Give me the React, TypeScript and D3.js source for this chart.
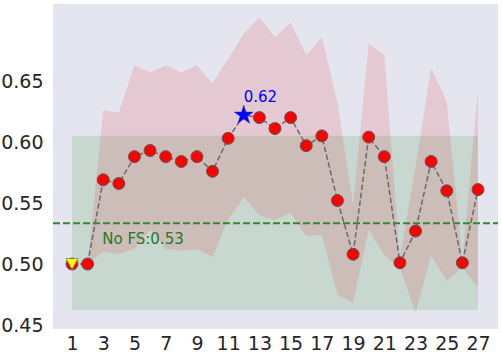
import React, { useEffect, useRef } from 'react';
import * as d3 from 'd3';

// number of selected features on the x axis
const features = [1, 2, 3, 4, 5, 6, 7, 8, 9, 10, 11, 12, 13, 14, 15, 16, 17, 18, 19, 20, 21, 22, 23, 24, 25, 26, 27];
// mean score per feature count
const meanScore = [0.500, 0.500, 0.569, 0.566, 0.588, 0.593, 0.588, 0.584, 0.588, 0.576, 0.603, 0.622, 0.620,
  0.611, 0.620, 0.597, 0.605, 0.552, 0.508, 0.604, 0.588, 0.501, 0.527, 0.584, 0.560, 0.501, 0.561];
// mean + std
const upperScore = [0.500, 0.500, 0.626, 0.624, 0.663, 0.657, 0.663, 0.657, 0.663, 0.648, 0.668, 0.689, 0.702,
  0.686, 0.698, 0.671, 0.686, 0.632, 0.549, 0.681, 0.671, 0.505, 0.580, 0.661, 0.633, 0.503, 0.643];
// mean - std
const lowerScore = [0.500, 0.500, 0.510, 0.508, 0.512, 0.528, 0.512, 0.511, 0.512, 0.506, 0.536, 0.555, 0.540,
  0.536, 0.542, 0.523, 0.524, 0.475, 0.468, 0.528, 0.507, 0.497, 0.460, 0.507, 0.486, 0.497, 0.481];

const noFsScore = 0.5335;
const noFsLabel = 'No FS:0.53';
const boxLow = 0.4623;
const boxHigh = 0.605;

const xTicks = [1, 3, 5, 7, 9, 11, 13, 15, 17, 19, 21, 23, 25, 27];
const yTicks = [0.45, 0.5, 0.55, 0.6, 0.65];

export default function App() {
  const ref = useRef<SVGSVGElement>(null);

  useEffect(() => {
    const svg = d3.select(ref.current);
    svg.selectAll('*').remove();

    // plot area
    const left = 53, right = 498, top = 4, bottom = 329;
    const font = 'DejaVu Sans, sans-serif';

    const x = d3.scaleLinear().domain([1, 27]).range([72, 478]);
    const y = d3.scaleLinear().domain([0.45, 0.65]).range([325, 81]);

    svg.append('rect')
      .attr('x', left).attr('y', top)
      .attr('width', right - left).attr('height', bottom - top)
      .attr('fill', '#E5E5EF');

    // min/max box
    svg.append('rect')
      .attr('x', x(features[0]))
      .attr('y', y(boxHigh))
      .attr('width', x(features[features.length - 1]) - x(features[0]))
      .attr('height', y(boxLow) - y(boxHigh))
      .attr('fill', 'rgb(84,164,84)')
      .attr('fill-opacity', 0.2);

    // std band
    const band = d3.area<number>()
      .x((d, i) => x(features[i]))
      .y0((d, i) => y(lowerScore[i]))
      .y1((d, i) => y(upperScore[i]));
    svg.append('path')
      .datum(meanScore)
      .attr('d', band)
      .attr('fill', 'rgb(224,84,94)')
      .attr('fill-opacity', 0.2);

    // no feature selection baseline
    svg.append('line')
      .attr('x1', left).attr('x2', right)
      .attr('y1', y(noFsScore)).attr('y2', y(noFsScore))
      .attr('stroke', '#2f8a2f')
      .attr('stroke-width', 2)
      .attr('stroke-dasharray', '7,3');

    svg.append('text')
      .attr('x', x(3) - 1)
      .attr('y', y(noFsScore) + 20.5)
      .attr('font-family', font)
      .attr('font-size', 15)
      .attr('fill', '#1f7a1f')
      .text(noFsLabel);

    // mean line
    const line = d3.line<number>()
      .x((d, i) => x(features[i]))
      .y(d => y(d));
    svg.append('path')
      .datum(meanScore)
      .attr('d', line)
      .attr('fill', 'none')
      .attr('stroke', '#6a6a6a')
      .attr('stroke-width', 1.5)
      .attr('stroke-dasharray', '5.5,2.5');

    const best = d3.maxIndex(meanScore);

    svg.append('g')
      .selectAll('circle')
      .data(meanScore.map((d, i) => i).filter(i => i !== best))
      .enter()
      .append('circle')
      .attr('cx', i => x(features[i]))
      .attr('cy', i => y(meanScore[i]))
      .attr('r', 6)
      .attr('fill', 'red')
      .attr('stroke', '#5a5a5a')
      .attr('stroke-width', 1);

    // first point marker
    svg.append('path')
      .attr('d', 'M-6,-5.5L6,-5.5L0,5.5Z')
      .attr('transform', `translate(${x(features[0])},${y(meanScore[0])})`)
      .attr('fill', 'yellow')
      .attr('stroke', '#6a6a6a')
      .attr('stroke-width', 0.6);

    // best point
    svg.append('path')
      .attr('d', d3.symbol().type(d3.symbolStar).size(112)())
      .attr('transform', `translate(${x(features[best])},${y(meanScore[best])})`)
      .attr('fill', 'blue')
      .attr('stroke', '#3030a0')
      .attr('stroke-width', 0.5);

    svg.append('text')
      .attr('x', x(features[best]))
      .attr('y', y(meanScore[best]) - 13)
      .attr('font-family', font)
      .attr('font-size', 15)
      .attr('fill', 'blue')
      .text(meanScore[best].toFixed(2));

    // axes
    const xAxis = svg.append('g')
      .attr('transform', `translate(0,${bottom})`)
      .call(d3.axisBottom(x).tickValues(xTicks).tickSize(0).tickPadding(8));
    xAxis.select('.domain').remove();
    xAxis.attr('font-size', 19).attr('font-family', font);
    xAxis.selectAll('text').attr('fill', '#262626');

    const yAxis = svg.append('g')
      .attr('transform', `translate(${left},0)`)
      .call(d3.axisLeft(y).tickValues(yTicks).tickFormat(d3.format('.2f')).tickSize(0).tickPadding(9.5));
    yAxis.select('.domain').remove();
    yAxis.attr('font-size', 19).attr('font-family', font);
    yAxis.selectAll('text').attr('fill', '#262626');
  }, []);

  return (
    <svg ref={ref} width={502} height={353} style={{ position: 'absolute', left: 0, top: 0, background: '#fff' }} />
  );
}
